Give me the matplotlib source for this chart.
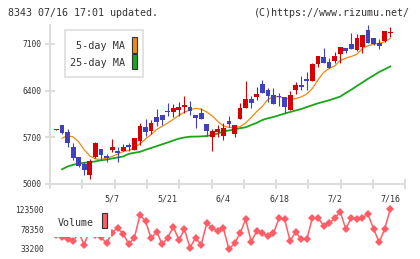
import matplotlib
matplotlib.use("Agg")
import matplotlib.pyplot as plt
import matplotlib.patches as patches
import numpy as np

plt.rcParams['font.family'] = ['DejaVu Sans Mono']

# daily candles (4/19 .. 7/16)
opens = [5815, 5885, 5780, 5555, 5405, 5295, 5140, 5405, 5525, 5420,
         5510, 5500, 5500, 5585, 5510, 5650, 5855, 5800, 6005, 6035,
         6090, 6085, 6110, 6160, 6150, 6035, 6060, 5900, 5700, 5780,
         5725, 5945, 5750, 5980, 6145, 6280, 6305, 6500, 6410, 6330,
         6315, 6305, 6110, 6410, 6485, 6575, 6550, 6795, 6910, 6830,
         6845, 6945, 7040, 7100, 7005, 7060, 7310, 7185, 7120, 7150, 7270]
highs = [5820, 5885, 5820, 5610, 5410, 5335, 5375, 5625, 5525, 5445,
         5675, 5560, 5605, 5620, 5695, 5910, 5975, 5960, 6125, 6035,
         6210, 6200, 6225, 6320, 6245, 6040, 6135, 5900, 5825, 5885,
         5910, 6020, 5890, 6220, 6545, 6320, 6450, 6560, 6440, 6435,
         6370, 6310, 6395, 6525, 6620, 6685, 6810, 6925, 7040, 6895,
         6975, 7060, 7045, 7260, 7245, 7240, 7385, 7190, 7170, 7300, 7360]
lows = [5815, 5755, 5560, 5360, 5260, 5140, 5080, 5390, 5365, 5335,
        5475, 5335, 5490, 5495, 5505, 5585, 5720, 5745, 5870, 5880,
        6025, 6010, 6020, 6060, 6040, 5845, 5975, 5720, 5495, 5700,
        5660, 5860, 5705, 5975, 6140, 6145, 6260, 6365, 6235, 6200,
        6175, 6060, 6110, 6345, 6410, 6410, 6545, 6760, 6815, 6740,
        6810, 6820, 6960, 7025, 7000, 6970, 7120, 7080, 7030, 7125, 7200]
closes = [5820, 5770, 5610, 5395, 5275, 5210, 5345, 5620, 5435, 5385,
          5555, 5470, 5555, 5555, 5685, 5870, 5785, 5920, 5935, 5965,
          6080, 6135, 6160, 6190, 6090, 5990, 5980, 5800, 5795, 5830,
          5840, 5900, 5885, 6140, 6275, 6220, 6350, 6370, 6325, 6205,
          6305, 6160, 6335, 6490, 6460, 6550, 6800, 6920, 6820, 6745,
          6920, 7055, 7000, 7030, 7190, 7235, 7120, 7100, 7075, 7295, 7280]

# moving averages as drawn (first day has no value)
ma5 = [np.nan, 5686, 5728, 5705, 5630, 5510, 5420, 5375, 5368, 5390,
       5413, 5450, 5488, 5503, 5543, 5603, 5675, 5743, 5818, 5866,
       5915, 5971, 6031, 6076, 6113, 6136, 6122, 6080, 6020, 5938,
       5870, 5848, 5845, 5860, 5915, 5998, 6088, 6163, 6268, 6308,
       6310, 6287, 6271, 6281, 6308, 6350, 6433, 6560, 6673, 6733,
       6770, 6851, 6887, 6913, 6947, 7033, 7073, 7096, 7112, 7133, 7183]
ma25 = [np.nan, 5221, 5263, 5288, 5308, 5318, 5327, 5339, 5356, 5366,
        5383, 5398, 5413, 5453, 5468, 5483, 5513, 5540, 5567, 5596,
        5623, 5653, 5680, 5698, 5710, 5711, 5714, 5720, 5735, 5758,
        5788, 5803, 5816, 5837, 5851, 5885, 5918, 5960, 5986, 6005,
        6031, 6056, 6080, 6103, 6125, 6155, 6182, 6211, 6233, 6256,
        6284, 6311, 6365, 6416, 6470, 6524, 6578, 6628, 6680, 6721, 6763]

volume = [65000, 60400, 55200, 50670, 70000, 42300, 80000, 65000, 60000, 46100,
          70600, 80170, 67200, 44550, 58840, 110350, 96700, 57480, 72450, 43860,
          58840, 83800, 53620, 77900, 36150, 58840, 42280, 91500, 80170, 74040,
          80170, 32500, 46100, 68800, 100600, 49800, 74040, 68800, 63400, 68800,
          102860, 100600, 51350, 72450, 55200, 55200, 104200, 104200, 86070, 91500,
          102860, 117800, 78600, 104200, 101270, 104200, 111900, 78600, 48400, 78600, 123950]

date_idx = [10, 20, 30, 40, 50, 60]
date_labels = ['5/7', '5/21', '6/4', '6/18', '7/2', '7/16']
price_ticks = [5000, 5700, 6400, 7100]
vol_ticks = [33200, 78350, 123500]

RED = '#d60000'
BLUE = '#4040c0'
ORANGE = '#f08a10'
GREEN = '#1aa51a'
VOLC = '#ff5c66'
GRID = '#dddddd'
TXT = '#333333'

W, H = 420, 259


def fx(x):
    return x / W


def fy(y):
    return 1 - y / H


fig = plt.figure(figsize=(4.2, 2.59), dpi=100)

# ---------------------------------------------------------------- price panel
ax = fig.add_axes([fx(50), fy(184), (405.3 - 50) / W, (184 - 25) / H])
x = np.arange(len(closes))
o = np.array(opens)
c = np.array(closes)
up = c >= o
cols = np.where(up, RED, BLUE)

ax.plot(x, ma25, color=GREEN, lw=1.3, zorder=2)
ax.plot(x, ma5, color=ORANGE, lw=0.9, zorder=2)
ax.vlines(x, lows, highs, colors=cols, lw=0.8, zorder=3)
body_h = np.maximum(np.abs(c - o), 15)
ax.bar(x, body_h, bottom=np.minimum(o, c), width=0.86, color=cols,
       linewidth=0, zorder=4)

ax.set_xlim(-1.168, 62.70)
ax.set_ylim(5000, 7385)
for s in ['top', 'right']:
    ax.spines[s].set_visible(False)
for s in ['left', 'bottom']:
    ax.spines[s].set_color(GRID)
    ax.spines[s].set_linewidth(1.4)

ax.set_yticks(price_ticks)
ax.set_yticklabels([str(v) for v in price_ticks])
ax.tick_params(axis='y', direction='inout', length=6.5, width=1.4, color=GRID,
               labelsize=5.7, labelcolor=TXT, pad=3)
ax.set_xticks(np.linspace(-1.168, 62.70, 12))
ax.set_xticklabels([])
ax.tick_params(axis='x', which='major', direction='inout', length=6.5,
               width=1.4, color=GRID)
ax.set_xticks(date_idx, minor=True)
ax.set_xticklabels(date_labels, minor=True)
ax.tick_params(axis='x', which='minor', length=0, labelsize=6, labelcolor=TXT,
               pad=7.5)

# ---------------------------------------------------------------- volume panel
vax = fig.add_axes([fx(50), fy(252), (405.3 - 50) / W, (252 - 205) / H])
vax.plot(x, volume, color=VOLC, lw=1.1, marker='D', markersize=3.6,
         markeredgewidth=0)
vax.set_xlim(-1.168, 62.70)
vax.set_ylim(26390, 133036)
for s in vax.spines.values():
    s.set_visible(False)
vax.set_xticks([])
vax.set_yticks(vol_ticks)
vax.set_yticklabels([str(v) for v in vol_ticks])
vax.tick_params(axis='y', length=0, labelsize=5.7, labelcolor=TXT, pad=4.3)

# ---------------------------------------------------------------- legends
fig.add_artist(patches.Rectangle((fx(65), fy(77.3)), (143.3 - 65) / W,
                                 (77.3 - 30) / H, transform=fig.transFigure,
                                 facecolor='white', edgecolor=GRID, lw=1.2,
                                 zorder=5))
fig.text(fx(125), fy(46), '5-day MA', ha='right', va='center', fontsize=7.3,
         color=TXT, zorder=6)
fig.text(fx(125), fy(63.3), '25-day MA', ha='right', va='center', fontsize=7.3,
         color=TXT, zorder=6)
fig.add_artist(patches.Rectangle((fx(131.7), fy(52.7)), 5.6 / W, 15.4 / H,
                                 transform=fig.transFigure, facecolor=ORANGE,
                                 edgecolor=TXT, lw=0.8, zorder=6))
fig.add_artist(patches.Rectangle((fx(131.7), fy(69.3)), 5.6 / W, 15 / H,
                                 transform=fig.transFigure, facecolor=GREEN,
                                 edgecolor=TXT, lw=0.8, zorder=6))

# volume legend sits on a white patch that hides the line
fig.add_artist(patches.Rectangle((fx(51), fy(236.5)), (110.5 - 51) / W,
                                 (236.5 - 203) / H, transform=fig.transFigure,
                                 facecolor='white', edgecolor='none', zorder=5))
fig.text(fx(58), fy(222.5), 'Volume', ha='left', va='center', fontsize=7.2,
         color=TXT, zorder=6)
fig.add_artist(patches.Rectangle((fx(101.7), fy(228.3)), 5.6 / W, 15 / H,
                                 transform=fig.transFigure, facecolor=VOLC,
                                 edgecolor=TXT, lw=0.8, zorder=6))

# ---------------------------------------------------------------- header
fig.text(fx(8), fy(12.5), '8343 07/16 17:01 updated.', ha='left', va='center',
         fontsize=7.2, color=TXT)
fig.text(fx(410), fy(12.5), '(C)https://www.rizumu.net/', ha='right',
         va='center', fontsize=7.2, color=TXT)

fig.savefig('out.png', dpi=100)
